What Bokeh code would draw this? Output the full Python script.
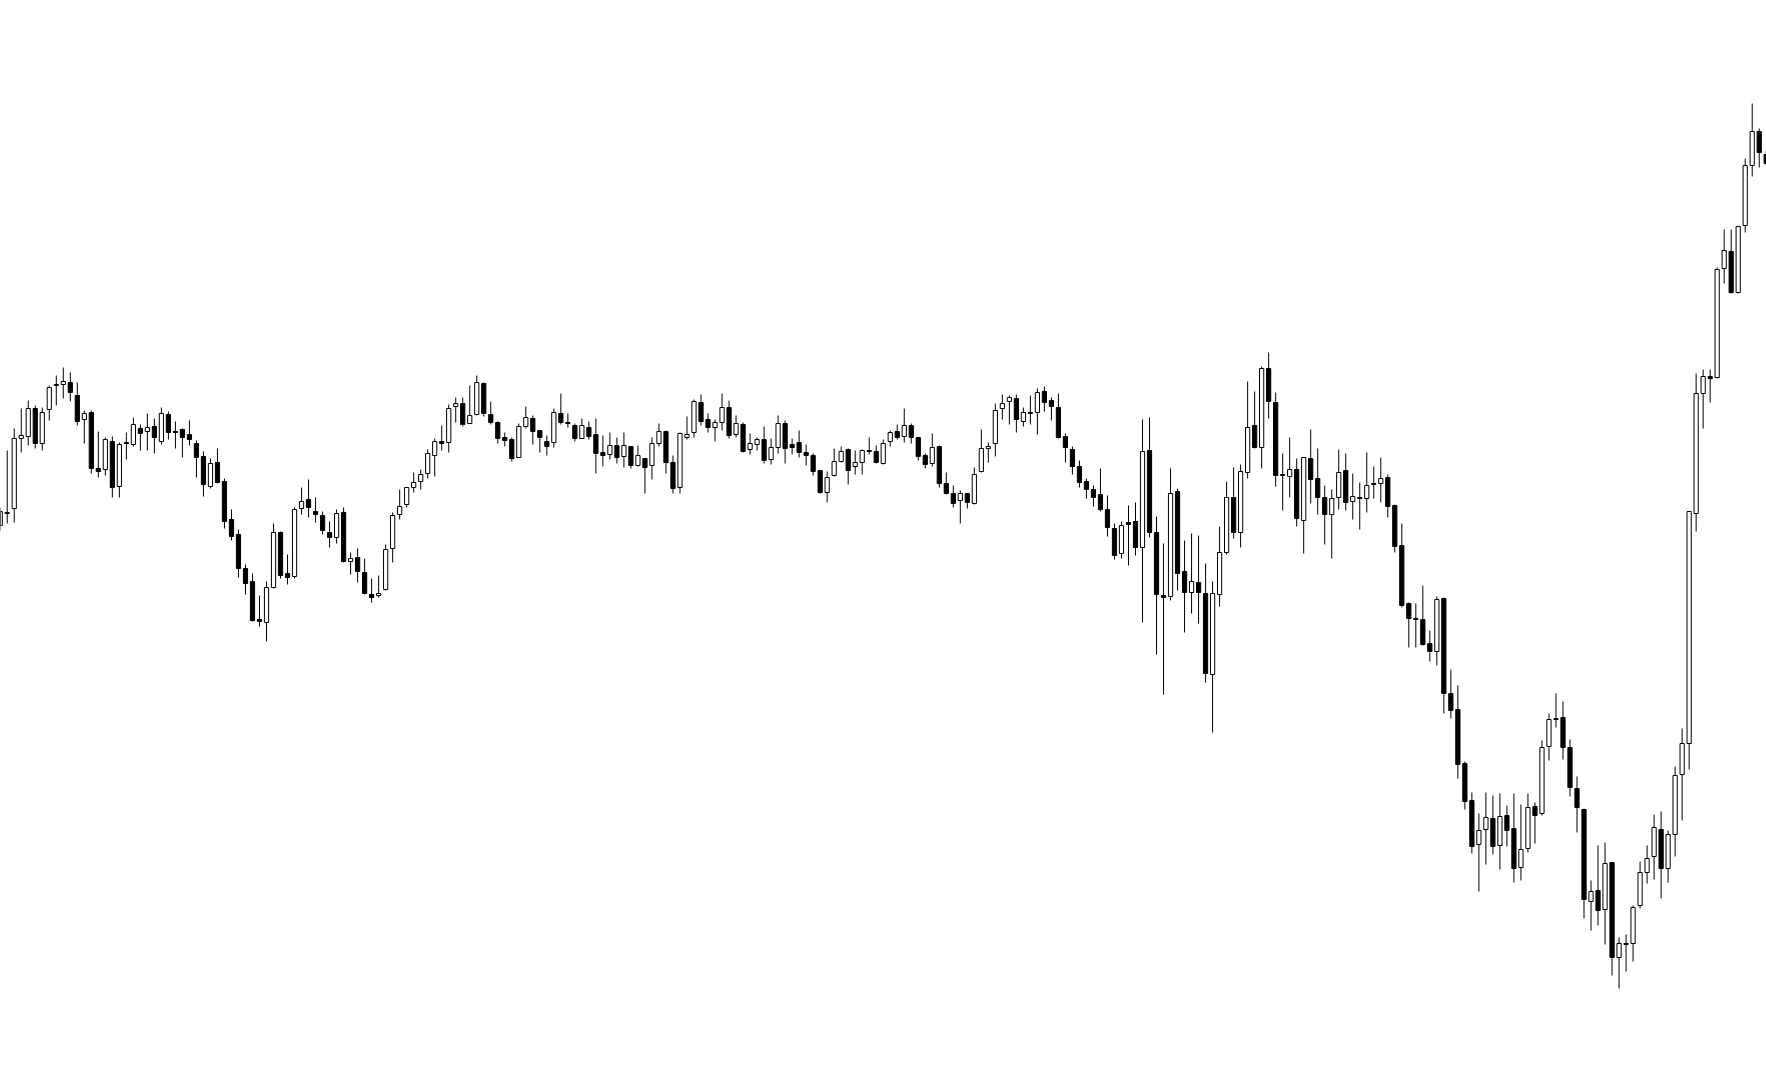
from bokeh.plotting import figure
from bokeh.models import Range1d, ColumnDataSource
from bokeh.embed import file_html
from bokeh.resources import INLINE

opens = [
    475, 487, 492, 562, 564, 592, 557, 591, 615, 616,
    618, 605, 581, 588, 532, 531, 559, 514, 558, 556,
    572, 569, 574, 559, 586, 569, 571, 566, 557, 544,
    514, 538, 519, 481, 466, 432, 419, 381, 378, 413,
    468, 427, 424, 492, 501, 489, 485, 468, 463, 488,
    439, 443, 428, 406, 405, 411, 452, 486, 496, 513,
    519, 527, 545, 559, 558, 594, 597, 577, 586, 617,
    586, 578, 563, 561, 543, 574, 582, 570, 559, 558,
    587, 578, 575, 562, 573, 566, 548, 546, 555, 544,
    554, 535, 542, 535, 557, 569, 538, 513, 563, 568,
    598, 581, 573, 578, 593, 566, 576, 551, 556, 561,
    541, 553, 577, 556, 558, 548, 545, 530, 508, 525,
    539, 551, 534, 538, 550, 549, 537, 559, 569, 564,
    575, 563, 545, 537, 554, 517, 507, 500, 507, 497,
    529, 552, 557, 592, 599, 602, 579, 588, 588, 609,
    600, 593, 564, 551, 534, 519, 511, 506, 491, 472,
    447, 478, 479, 453, 550, 468, 405, 404, 509, 429,
    408, 418, 407, 326, 406, 448, 503, 468, 528, 575,
    553, 632, 598, 526, 524, 531, 480, 542, 522, 503,
    486, 503, 530, 499, 503, 502, 517, 517, 523, 495,
    455, 397, 382, 381, 357, 349, 402, 307, 291, 237,
    200, 156, 171, 182, 155, 185, 172, 133, 152, 194,
    187, 254, 281, 283, 253, 212, 191, 99, 110, 91,
    138, 43, 57, 57, 95, 128, 144, 171, 132, 166,
    226, 257, 487, 607, 624, 623, 732, 749, 708, 775,
    835, 869, 846,
]

highs = [
    493, 550, 572, 592, 600, 595, 593, 615, 625, 633,
    628, 618, 590, 590, 569, 563, 564, 558, 568, 583,
    576, 587, 582, 593, 589, 579, 572, 580, 560, 549,
    542, 552, 522, 491, 471, 436, 427, 405, 419, 477,
    469, 446, 493, 513, 521, 503, 489, 479, 491, 493,
    448, 452, 442, 422, 425, 456, 488, 511, 513, 528,
    531, 551, 562, 575, 596, 603, 603, 615, 625, 618,
    599, 579, 568, 563, 577, 594, 585, 570, 565, 592,
    607, 587, 577, 582, 579, 582, 565, 568, 563, 568,
    554, 555, 542, 563, 577, 570, 545, 568, 584, 601,
    606, 587, 581, 607, 600, 585, 578, 567, 563, 574,
    562, 585, 580, 562, 570, 556, 547, 530, 529, 552,
    554, 552, 550, 551, 563, 555, 561, 570, 576, 592,
    577, 563, 547, 567, 555, 528, 515, 510, 507, 533,
    571, 558, 597, 606, 605, 606, 593, 605, 612, 614,
    603, 607, 567, 554, 540, 522, 515, 532, 505, 477,
    479, 495, 498, 581, 583, 484, 457, 532, 512, 460,
    467, 465, 437, 419, 474, 519, 533, 536, 619, 609,
    634, 648, 608, 547, 563, 542, 543, 571, 552, 515,
    511, 551, 547, 527, 518, 548, 534, 543, 526, 496,
    477, 398, 397, 415, 370, 404, 403, 331, 315, 239,
    208, 187, 208, 205, 207, 195, 207, 196, 207, 198,
    260, 287, 307, 299, 261, 224, 192, 120, 155, 158,
    138, 63, 66, 95, 139, 155, 186, 189, 170, 234,
    272, 489, 627, 631, 631, 733, 771, 771, 774, 842,
    897, 872, 850,
]

lows = [
    470, 477, 478, 548, 555, 552, 550, 580, 595, 602,
    599, 575, 557, 527, 523, 525, 503, 503, 541, 554,
    550, 550, 547, 556, 561, 552, 543, 555, 523, 504,
    512, 517, 472, 460, 423, 406, 379, 374, 359, 412,
    422, 416, 422, 486, 483, 478, 466, 453, 457, 438,
    426, 418, 406, 398, 403, 410, 438, 481, 493, 508,
    511, 522, 524, 550, 548, 578, 574, 577, 585, 584,
    576, 557, 554, 539, 543, 572, 556, 548, 545, 553,
    576, 573, 559, 562, 561, 527, 534, 541, 537, 533,
    532, 534, 507, 521, 554, 527, 507, 507, 561, 563,
    575, 568, 559, 570, 562, 563, 548, 546, 550, 537,
    536, 547, 537, 546, 543, 535, 525, 507, 498, 524,
    538, 516, 526, 526, 546, 537, 536, 554, 561, 558,
    557, 540, 532, 534, 513, 506, 493, 477, 492, 496,
    528, 538, 544, 581, 576, 568, 574, 576, 566, 589,
    580, 562, 538, 526, 513, 502, 494, 489, 464, 441,
    442, 435, 445, 378, 463, 346, 306, 400, 410, 368,
    387, 377, 318, 268, 394, 446, 462, 453, 522, 552,
    532, 582, 514, 490, 503, 474, 447, 497, 486, 456,
    442, 491, 490, 481, 471, 488, 502, 498, 483, 448,
    393, 353, 353, 355, 339, 335, 287, 282, 222, 191,
    147, 109, 136, 146, 131, 154, 118, 120, 148, 157,
    185, 240, 273, 241, 204, 168, 82, 70, 75, 56,
    25, 12, 29, 39, 92, 117, 121, 102, 118, 144,
    180, 231, 469, 572, 598, 622, 717, 707, 707, 768,
    824, 833, 835,
]

closes = [
    489, 488, 562, 565, 592, 557, 588, 613, 616, 619,
    608, 579, 587, 532, 529, 561, 513, 556, 557, 576,
    567, 573, 563, 587, 568, 568, 563, 561, 543, 516,
    537, 518, 479, 464, 432, 417, 380, 379, 413, 468,
    425, 423, 491, 499, 493, 486, 470, 463, 487, 439,
    442, 429, 407, 403, 407, 451, 485, 494, 513, 518,
    526, 547, 559, 557, 592, 597, 576, 585, 618, 587,
    578, 562, 560, 542, 574, 583, 569, 563, 554, 588,
    578, 577, 562, 575, 564, 547, 545, 555, 543, 555,
    535, 545, 533, 557, 569, 538, 512, 567, 566, 599,
    579, 573, 578, 593, 565, 577, 549, 557, 561, 540,
    553, 577, 552, 553, 548, 545, 529, 508, 523, 539,
    549, 530, 538, 550, 549, 538, 557, 568, 563, 575,
    563, 544, 536, 553, 517, 507, 497, 507, 498, 526,
    552, 554, 590, 597, 603, 581, 588, 587, 608, 598,
    594, 563, 553, 534, 518, 511, 503, 491, 473, 445,
    475, 476, 453, 549, 468, 406, 403, 507, 427, 408,
    419, 408, 327, 407, 448, 503, 468, 529, 573, 553,
    632, 599, 525, 525, 531, 482, 543, 521, 503, 486,
    502, 528, 498, 504, 502, 515, 516, 522, 494, 454,
    395, 382, 381, 356, 349, 401, 307, 290, 236, 199,
    154, 170, 183, 154, 184, 170, 132, 151, 193, 185,
    253, 281, 282, 253, 213, 193, 101, 109, 90, 137,
    43, 57, 56, 93, 128, 142, 173, 132, 166, 225,
    257, 489, 607, 624, 622, 731, 750, 708, 774, 835,
    869, 848, 837,
]

n = len(opens)
idx = list(range(n))

wicks = ColumnDataSource(dict(x=idx, lo=lows, hi=highs))
up_src = ColumnDataSource(dict(
    x=[i for i in idx if closes[i] > opens[i]],
    top=[closes[i] for i in idx if closes[i] > opens[i]],
    bottom=[opens[i] for i in idx if closes[i] > opens[i]],
))
dn_src = ColumnDataSource(dict(
    x=[i for i in idx if closes[i] <= opens[i]],
    top=[opens[i] for i in idx if closes[i] <= opens[i]],
    bottom=[closes[i] for i in idx if closes[i] <= opens[i]],
))

p = figure(
    width=1766, height=1066,
    output_backend="svg", toolbar_location=None,
    x_range=Range1d(0.04, 252.04), y_range=Range1d(-66, 1000),
    x_axis_location=None, y_axis_location=None,
    min_border=0,
)
p.grid.visible = False
p.outline_line_color = None
p.background_fill_color = "white"
p.border_fill_color = "white"

p.segment(x0="x", y0="lo", x1="x", y1="hi", source=wicks, line_color="black", line_width=1)
p.vbar(x="x", top="top", bottom="bottom", width=0.6, source=up_src,
       fill_color="white", line_color="black", line_width=1)
p.vbar(x="x", top="top", bottom="bottom", width=0.6, source=dn_src,
       fill_color="black", line_color="black", line_width=1)

open("out.html", "w").write(file_html(p, INLINE))
